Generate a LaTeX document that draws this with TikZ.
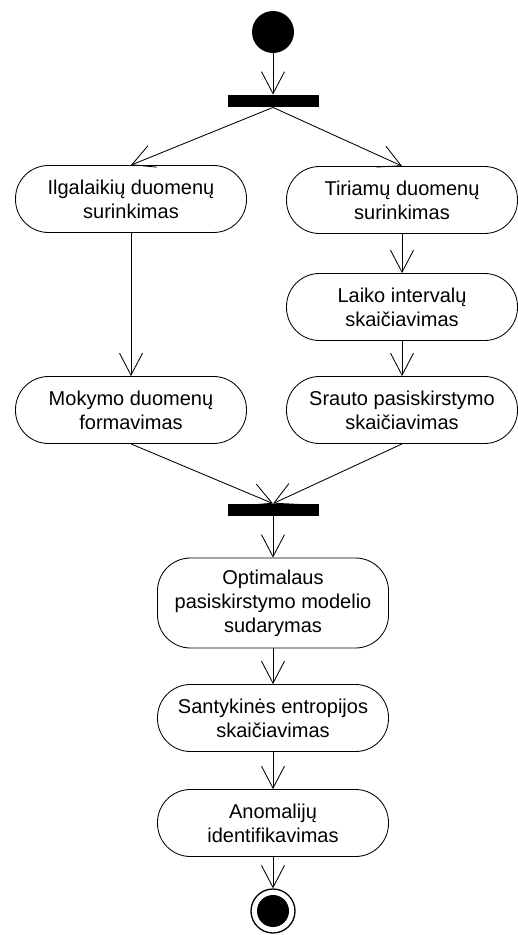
\documentclass[tikz,border=0pt]{standalone}
\usepackage{fontspec}
\setmainfont{Liberation Sans}
\usetikzlibrary{arrows.meta}

\begin{document}
\begin{tikzpicture}[x=1pt,y=-1pt,line width=0.85pt,
  activity/.style={draw,rounded corners=33pt,minimum width=231pt,minimum height=67pt,
    align=center,inner sep=2pt,font=\fontsize{20}{24}\selectfont},
  syncbar/.style={fill=black,minimum width=91pt,minimum height=12pt,inner sep=0pt},
  flow/.style={-{Straight Barb[length=22pt,width=23pt]}}]
  \useasboundingbox (0,0) rectangle (518,935);
  \node[circle,fill=black,minimum size=42pt,inner sep=0pt] (start) at (273,32) {};
  \node[syncbar] (fork) at (273,101) {};
  \node[activity] (collect) at (131,199) {Ilgalaikių duomenų\\surinkimas};
  \node[activity] (probe) at (402,200) {Tiriamų duomenų\\surinkimas};
  \node[activity] (interval) at (402,307) {Laiko intervalų\\skaičiavimas};
  \node[activity] (train) at (131,410) {Mokymo duomenų\\formavimas};
  \node[activity] (flowdist) at (402,410) {Srauto pasiskirstymo\\skaičiavimas};
  \node[syncbar] (join) at (273,510) {};
  \node[activity,minimum height=90pt] (model) at (273,603) {Optimalaus\\pasiskirstymo modelio\\sudarymas};
  \node[activity] (entropy) at (273,718) {Santykinės entropijos\\skaičiavimas};
  \node[activity] (anomaly) at (273,823) {Anomalijų\\identifikavimas};
  \node[circle,draw,line width=1.3pt,minimum size=44pt,inner sep=0pt] (stop) at (273,911) {};
  \fill (stop.center) circle (16pt);
  \draw[flow] (start) -- (fork);
  \draw[flow] (fork.south) -- (collect.north);
  \draw[flow] (fork.south) -- (probe.north);
  \draw[flow] (collect) -- (train);
  \draw[flow] (probe) -- (interval);
  \draw[flow] (interval) -- (flowdist);
  \draw[flow] (train.south) -- (join.north);
  \draw[flow] (flowdist.south) -- (join.north);
  \draw[flow] (join) -- (model);
  \draw[flow] (model) -- (entropy);
  \draw[flow] (entropy) -- (anomaly);
  \draw[flow] (anomaly) -- (stop);
\end{tikzpicture}
\end{document}
